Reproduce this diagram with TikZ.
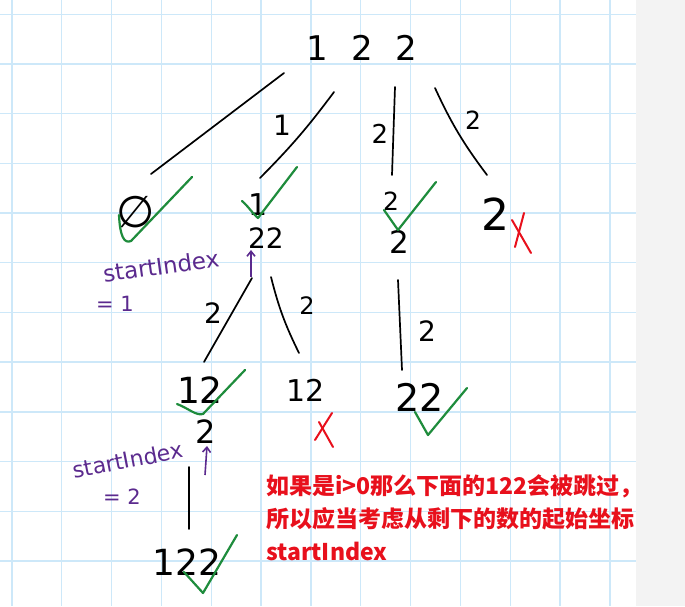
\documentclass[tikz,border=0pt]{standalone}
\usepackage{fontspec}
\newfontfamily\hw{DejaVu Sans}
\newfontfamily\cjk{Noto Sans CJK SC}
\usetikzlibrary{arrows.meta}
\definecolor{gridblue}{HTML}{CDE8F9}
\definecolor{graybg}{HTML}{F3F3F3}
\definecolor{okgreen}{HTML}{1E8C3C}
\definecolor{badred}{HTML}{E8101C}
\definecolor{idxpurple}{HTML}{5B2A8E}
\tikzset{
  gridline/.style={draw=gridblue, line width=1.4pt},
  num/.style={font=\hw\fontsize{#1}{#1}\selectfont, inner sep=0pt, text=black},
  edgeline/.style={draw=black, line width=1.7pt, line cap=round},
  okmark/.style={draw=okgreen, line width=2.2pt, line cap=round, line join=round},
  badmark/.style={draw=badred, line width=2pt, line cap=round},
  idxtext/.style={font=\hw\fontsize{#1}{#1}\selectfont, inner sep=0pt, text=idxpurple},
  idxarrow/.style={draw=idxpurple, line width=1.6pt, -{Straight Barb[length=5pt,width=8pt]}},
  note/.style={font=\cjk\bfseries\fontsize{23}{33}\selectfont, text=badred, inner sep=0pt, align=left, anchor=north west}
}
\begin{document}
\begin{tikzpicture}[x=1pt,y=-1pt]
\useasboundingbox (0,0) rectangle (685,606);
\fill[white] (0,0) rectangle (636,606);
\fill[graybg] (636,0) rectangle (685,606);
\foreach \k in {0,...,12} \draw[gridline] ({11.8+49.85*\k},0) -- ({11.8+49.85*\k},606);
\foreach \k in {0,...,11} \draw[gridline] (0,{14.2+49.7*\k}) -- (636,{14.2+49.7*\k});

% root
\node[num=34] (root) at (362,48) {1\hspace{23pt}2\hspace{23pt}2};

% level 1
\node[num=44] (n0) at (136,212) {∅};
\node[num=30] (n1) at (258,205) {1};
\node[num=28] (n1b) at (266,238) {22};
\node[num=25] (n2) at (391,201) {2};
\node[num=31] (n2b) at (399,242) {2};
\node[num=44] (n3) at (495,214) {2};

% edges from root
\coordinate (r0) at (284,73);  \coordinate (l0) at (151,174);
\coordinate (r1) at (334,92);  \coordinate (l1) at (260,178);
\coordinate (r2) at (395,87);  \coordinate (l2) at (392,175);
\coordinate (r3) at (435,88);  \coordinate (l3) at (487,175);
\draw[edgeline] (r0) -- (l0);
\draw[edgeline] (r1) to[bend left=4] (l1);
\draw[edgeline] (r2) -- (l2);
\draw[edgeline] (r3) to[bend right=6] (l3);
\node[num=28] (e1) at (282,125) {1};
\node[num=26] (e2) at (380,134) {2};
\node[num=25] (e3) at (473,120) {2};

% checks and cross on level 1
\draw[okmark] (119,215) .. controls (120,236) and (124,244) .. (131,241) -- (192,177);
\draw[okmark] (242,201) .. controls (248,206) and (253,214) .. (258,218) -- (297,167);
\draw[okmark] (384,210) -- (398,230) -- (436,182);
\draw[badmark] (512,220) -- (531,253);
\draw[badmark] (524,213) -- (515,247);

% startIndex = 1
\coordinate (a1) at (251,277);
\draw[idxarrow] (a1) -- (251,250);
\node[idxtext=23, rotate=8] (s1) at (161,266) {startIndex};
\node[idxtext=21] (s1v) at (115,304) {= 1};

% level 2 edges
\coordinate (p0) at (252,278); \coordinate (q0) at (204,362);
\coordinate (p1) at (271,277); \coordinate (q1) at (299,353);
\coordinate (p2) at (398,280); \coordinate (q2) at (402,370);
\draw[edgeline] (p0) -- (q0);
\draw[edgeline] (p1) to[bend right=6] (q1);
\draw[edgeline] (p2) -- (q2);
\node[num=28] (f1) at (213,313) {2};
\node[num=24] (f2) at (307,306) {2};
\node[num=28] (f3) at (427,331) {2};

% level 2 nodes
\node[num=36] (m1) at (200,390) {12};
\node[num=32] (m1b) at (206,432) {2};
\node[num=30] (m2) at (306,390) {12};
\node[num=38] (m3) at (420,397) {22};
\draw[okmark] (177,404) .. controls (188,408) and (196,416) .. (203,414) -- (245,370);
\draw[okmark] (415,412) -- (428,435) -- (467,388);
\draw[badmark] (332,413) -- (315,440);
\draw[badmark] (319,422) -- (333,447);

% startIndex = 2
\coordinate (a2) at (205,475);
\draw[idxarrow] (a2) -- (207,446);
\node[idxtext=22, rotate=11] (s2) at (128,460) {startIndex};
\node[idxtext=21] (s2v) at (122,497) {= 2};

% level 3
\coordinate (p3) at (189,467); \coordinate (q3) at (189,529);
\draw[edgeline] (p3) -- (q3);
\node[num=36] (leaf) at (187,562) {122};
\draw[okmark] (184,572) -- (203,593) -- (237,535);

% note
\node[note] (txt) at (266,474) {如果是i>0那么下面的122会被跳过，\\所以应当考虑从剩下的数的起始坐标\\startIndex};
\end{tikzpicture}
\end{document}
